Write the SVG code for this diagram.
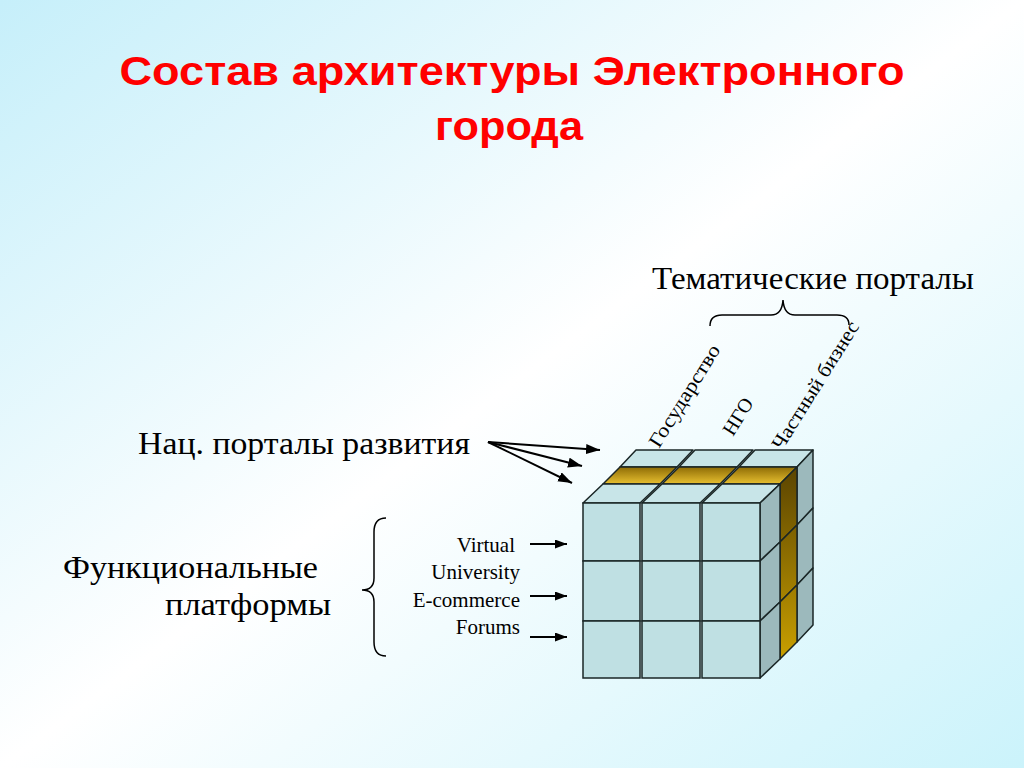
<svg xmlns="http://www.w3.org/2000/svg" width="1024" height="768" viewBox="0 0 1024 768">
  <defs>
    <linearGradient id="bg" x1="0" y1="0" x2="1" y2="1">
      <stop offset="0" stop-color="#c6effa"/>
      <stop offset="0.5" stop-color="#ffffff"/>
      <stop offset="1" stop-color="#cbf3fb"/>
    </linearGradient>
    <linearGradient id="goldTop" gradientUnits="userSpaceOnUse" x1="0" y1="467" x2="0" y2="484">
      <stop offset="0" stop-color="#8e6c06"/>
      <stop offset="1" stop-color="#e8c030"/>
    </linearGradient>
    <linearGradient id="goldSide" gradientUnits="userSpaceOnUse" x1="0" y1="470" x2="0" y2="660">
      <stop offset="0" stop-color="#5c4500"/>
      <stop offset="1" stop-color="#c9a000"/>
    </linearGradient>
    <marker id="bigArrow" markerUnits="userSpaceOnUse" markerWidth="16" markerHeight="12" refX="14" refY="5" orient="auto">
      <path d="M0,0 L14,5 L0,10 z" fill="#000"/>
    </marker>
    <marker id="smallArrow" markerUnits="userSpaceOnUse" markerWidth="14" markerHeight="10" refX="12" refY="4.5" orient="auto">
      <path d="M0,0 L12,4.5 L0,9 z" fill="#000"/>
    </marker>
  </defs>
  <style>
    .title { font-family: "Liberation Sans", Arial, sans-serif; font-weight: bold; font-size: 41px; fill: #ff0000; }
    .lbl { font-family: "Liberation Serif", "Times New Roman", serif; font-size: 32px; fill: #000; }
    .sm { font-family: "Liberation Serif", "Times New Roman", serif; font-size: 21px; fill: #000; }
    .rot { font-family: "Liberation Serif", "Times New Roman", serif; font-size: 20px; fill: #000; }
    .front { fill: #bfe0e3; stroke: #1a2626; stroke-width: 1.5; }
    .top { fill: #c8e5e8; stroke: #1a2626; stroke-width: 1.5; stroke-linejoin: round; }
    .side { fill: #9cb9bc; stroke: #1a2626; stroke-width: 1.5; stroke-linejoin: round; }
    .gtop { fill: url(#goldTop); stroke: #1a2626; stroke-width: 1.5; stroke-linejoin: round; }
    .gside { fill: url(#goldSide); stroke: #1a2626; stroke-width: 1.5; stroke-linejoin: round; }
    .brace { fill: none; stroke: #000; stroke-width: 1.5; }
    .conn { stroke: #000; stroke-width: 2; fill: none; }
  </style>

  <rect x="0" y="0" width="1024" height="768" fill="url(#bg)"/>

  <g id="title">
    <text class="title" x="512" y="85" text-anchor="middle" textLength="785" lengthAdjust="spacingAndGlyphs">Состав архитектуры Электронного</text>
    <text class="title" x="509" y="140" text-anchor="middle" textLength="148" lengthAdjust="spacingAndGlyphs">города</text>
  </g>

  <g id="cube">
    <g id="back-layer">
      <polygon class="top" points="620,467 677,467 693,450 636,450"/>
      <polygon class="top" points="679,467 737,467 753,450 695,450"/>
      <polygon class="top" points="739,467 797,467 813,450 755,450"/>
      <polygon class="side" points="797,467 813,450 813,508 797,525"/>
      <polygon class="side" points="797,525 813,508 813,568 797,585"/>
      <polygon class="side" points="797,585 813,568 813,625 797,642"/>
    </g>
    <g id="gold-layer">
      <polygon class="gtop" points="603,484 660,484 677,467 620,467"/>
      <polygon class="gtop" points="662,484 720,484 737,467 679,467"/>
      <polygon class="gtop" points="722,484 780,484 797,467 739,467"/>
      <polygon class="gside" points="780,484 797,467 797,525 780,542"/>
      <polygon class="gside" points="780,542 797,525 797,585 780,602"/>
      <polygon class="gside" points="780,602 797,585 797,642 780,659"/>
    </g>
    <g id="front-layer">
      <polygon class="top" points="583,503 640,503 660,484 603,484"/>
      <polygon class="top" points="642,503 700,503 720,484 662,484"/>
      <polygon class="top" points="702,503 760,503 780,484 722,484"/>
      <polygon class="side" points="760,503 780,484 780,542 760,561"/>
      <polygon class="side" points="760,561 780,542 780,602 760,621"/>
      <polygon class="side" points="760,621 780,602 780,659 760,678"/>
      <rect class="front" x="583" y="503" width="57" height="58"/>
      <rect class="front" x="642" y="503" width="58" height="58"/>
      <rect class="front" x="702" y="503" width="58" height="58"/>
      <rect class="front" x="583" y="561" width="57" height="60"/>
      <rect class="front" x="642" y="561" width="58" height="60"/>
      <rect class="front" x="702" y="561" width="58" height="60"/>
      <rect class="front" x="583" y="621" width="57" height="57"/>
      <rect class="front" x="642" y="621" width="58" height="57"/>
      <rect class="front" x="702" y="621" width="58" height="57"/>
    </g>
  </g>

  <g id="thematic-portals">
    <text class="lbl" x="652" y="289" textLength="322" lengthAdjust="spacingAndGlyphs">Тематические порталы</text>
    <path class="brace" d="M710,326 Q710,315 722,315 L771,315 Q782,315 783,300 Q784,315 795,315 L837,315 Q849,315 849,325"/>
    <text class="rot" transform="translate(659,449) rotate(-58)" textLength="117" lengthAdjust="spacingAndGlyphs">Государство</text>
    <text class="rot" transform="translate(733,437) rotate(-58)">НГО</text>
    <text class="rot" transform="translate(782,451) rotate(-58)" textLength="147" lengthAdjust="spacingAndGlyphs">Частный бизнес</text>
  </g>

  <g id="national-portals">
    <text class="lbl" x="138" y="454" textLength="332" lengthAdjust="spacingAndGlyphs">Нац. порталы развития</text>
  </g>

  <g id="functional-platforms">
    <text class="lbl" x="63" y="578" textLength="255" lengthAdjust="spacingAndGlyphs">Функциональные</text>
    <text class="lbl" x="165" y="615" textLength="166" lengthAdjust="spacingAndGlyphs">платформы</text>
    <path class="brace" d="M386,518 Q374,518 374,532 L374,578 Q374,590 362,590 Q374,590 374,602 L374,642 Q374,656 386,656"/>
    <text class="sm" x="515" y="552" text-anchor="end">Virtual</text>
    <text class="sm" x="520" y="579" text-anchor="end">University</text>
    <text class="sm" x="520" y="607" text-anchor="end">E-commerce</text>
    <text class="sm" x="520" y="634" text-anchor="end">Forums</text>
  </g>

  <g id="connectors">
    <line class="conn" x1="488" y1="442" x2="600" y2="450" marker-end="url(#bigArrow)"/>
    <line class="conn" x1="488" y1="442" x2="582" y2="466" marker-end="url(#bigArrow)"/>
    <line class="conn" x1="488" y1="442" x2="572" y2="483" marker-end="url(#bigArrow)"/>
    <line class="conn" x1="530" y1="544" x2="567" y2="544" marker-end="url(#smallArrow)"/>
    <line class="conn" x1="530" y1="596" x2="567" y2="596" marker-end="url(#smallArrow)"/>
    <line class="conn" x1="530" y1="637" x2="567" y2="637" marker-end="url(#smallArrow)"/>
  </g>
</svg>
